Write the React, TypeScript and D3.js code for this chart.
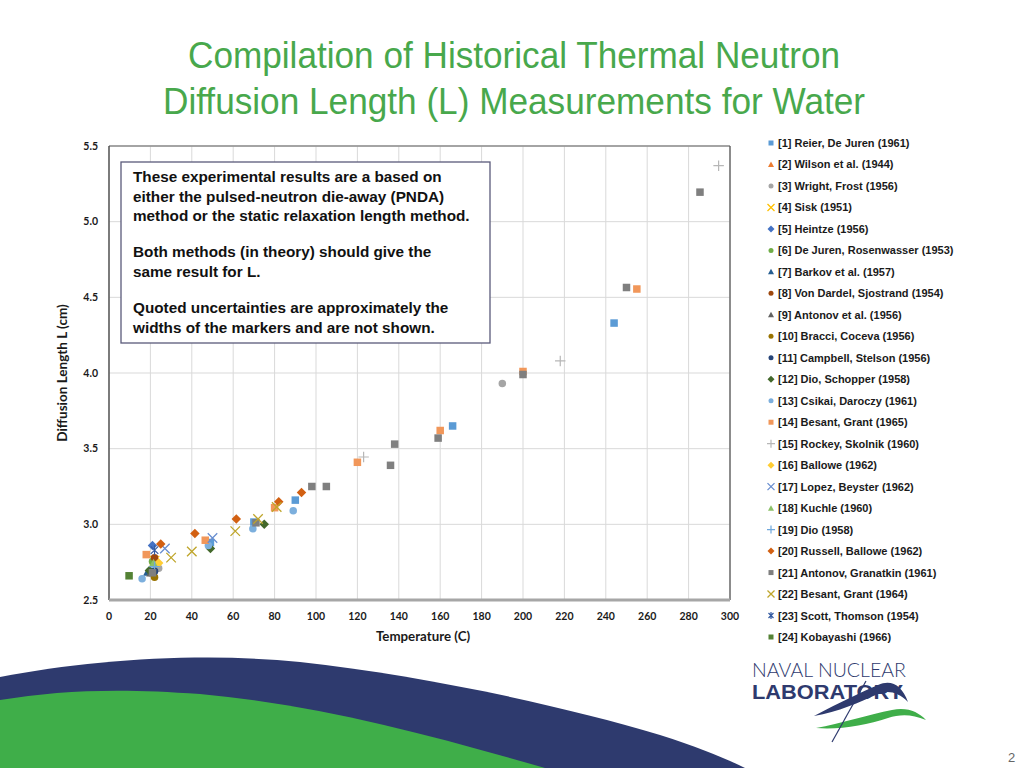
import React from "react";
import * as d3 from "d3";

// ---------- data ----------
const seriesNames = [
  "[1] Reier, De Juren (1961)",
  "[2] Wilson et al. (1944)",
  "[3] Wright, Frost (1956)",
  "[4] Sisk (1951)",
  "[5] Heintze (1956)",
  "[6] De Juren, Rosenwasser (1953)",
  "[7] Barkov et al. (1957)",
  "[8] Von Dardel, Sjostrand (1954)",
  "[9] Antonov et al. (1956)",
  "[10] Bracci, Coceva (1956)",
  "[11] Campbell, Stelson (1956)",
  "[12] Dio, Schopper (1958)",
  "[13] Csikai, Daroczy (1961)",
  "[14] Besant, Grant (1965)",
  "[15] Rockey, Skolnik (1960)",
  "[16] Ballowe (1962)",
  "[17] Lopez, Beyster (1962)",
  "[18] Kuchle (1960)",
  "[19] Dio (1958)",
  "[20] Russell, Ballowe (1962)",
  "[21] Antonov, Granatkin (1961)",
  "[22] Besant, Grant (1964)",
  "[23] Scott, Thomson (1954)",
  "[24] Kobayashi (1966)",
];

const seriesShapes = [
  "square", "triangle", "circle", "x", "diamond", "circle", "triangle", "circle",
  "triangle", "circle", "circle", "diamond", "circle", "square", "plus", "diamond",
  "x", "triangle", "plus", "diamond", "square", "x", "star", "square",
];

const seriesColors = [
  "#5B9BD5", "#ED7D31", "#A5A5A5", "#FFC000", "#4472C4", "#70AD47", "#255E91", "#9E480E",
  "#636363", "#997300", "#264478", "#43682B", "#7CAFDD", "#F1975A", "#B7B7B7", "#FFCD33",
  "#698ED0", "#8CC168", "#6FA8DC", "#D26012", "#7F7F7F", "#BFA52A", "#335AA1", "#548235",
];

// temperatures (C) per series
const seriesTemps: number[][] = [
  [244, 166, 90, 70, 49, 21],
  [23],
  [190, 24],
  [22],
  [21],
  [21],
  [18.5],
  [22],
  [20],
  [22],
  [22],
  [19.5, 49, 75],
  [16, 48, 69.5, 89],
  [18, 46.5, 80, 120, 160, 200, 255],
  [123, 218, 294.5],
  [24],
  [27, 50],
  [21.5],
  [22],
  [25, 41.5, 61.5, 82, 93],
  [21, 71, 98, 105, 136, 138, 159, 200, 250, 285.5],
  [30, 40, 61, 72, 81],
  [22],
  [9.7],
];

// diffusion lengths (cm) per series
const seriesValues: number[][] = [
  [4.33, 3.65, 3.16, 3.015, 2.88, 2.69],
  [2.77],
  [3.93, 2.71],
  [2.76],
  [2.86],
  [2.755],
  [2.685],
  [2.78],
  [2.68],
  [2.65],
  [2.69],
  [2.695, 2.84, 3.0],
  [2.64, 2.86, 2.97, 3.09],
  [2.8, 2.895, 3.11, 3.41, 3.62, 4.01, 4.555],
  [3.445, 4.08, 5.37],
  [2.745],
  [2.84, 2.91],
  [2.745],
  [2.72],
  [2.87, 2.94, 3.035, 3.15, 3.21],
  [2.68, 3.01, 3.25, 3.25, 3.39, 3.53, 3.57, 3.99, 4.565, 5.195],
  [2.78, 2.82, 2.955, 3.035, 3.115],
  [2.83],
  [2.66],
];

const xTicks = [0, 20, 40, 60, 80, 100, 120, 140, 160, 180, 200, 220, 240, 260, 280, 300];
const yTicks = [2.5, 3.0, 3.5, 4.0, 4.5, 5.0, 5.5];

const noteLines = [
  "These experimental results are a based on",
  "either the pulsed-neutron die-away (PNDA)",
  "method or the static relaxation length method.",
  "Both methods (in theory) should give the",
  "same result for L.",
  "Quoted uncertainties are approximately the",
  "widths of the markers and are not shown.",
];
const noteBaselines = [182, 201.5, 221, 257, 276.5, 313, 332.5];

// ---------- layout ----------
const W = 1024;
const H = 768;
const plot = { left: 109, right: 730, top: 146, bottom: 600 };
const chartFont = "Lato, 'Liberation Sans', sans-serif";
const arial = "'Liberation Sans', Arial, sans-serif";

function Marker({ shape, color, x, y, s }: { shape: string; color: string; x: number; y: number; s: number }) {
  const h = s / 2;
  switch (shape) {
    case "square":
      return <rect x={x - h} y={y - h} width={s} height={s} fill={color} />;
    case "circle":
      return <circle cx={x} cy={y} r={h} fill={color} />;
    case "triangle":
      return <path d={`M${x},${y - h - 0.5}L${x + h + 0.5},${y + h}L${x - h - 0.5},${y + h}Z`} fill={color} />;
    case "diamond":
      return <path d={`M${x},${y - h - 1}L${x + h + 1},${y}L${x},${y + h + 1}L${x - h - 1},${y}Z`} fill={color} />;
    case "x":
      return (
        <path d={`M${x - h - 1},${y - h - 1}L${x + h + 1},${y + h + 1}M${x - h - 1},${y + h + 1}L${x + h + 1},${y - h - 1}`} stroke={color} strokeWidth={1.3} fill="none" />
      );
    case "plus":
      return <path d={`M${x - h - 1.5},${y}L${x + h + 1.5},${y}M${x},${y - h - 1.5}L${x},${y + h + 1.5}`} stroke={color} strokeWidth={1.2} fill="none" />;
    case "star":
      return (
        <path d={`M${x - h},${y - h}L${x + h},${y + h}M${x - h},${y + h}L${x + h},${y - h}M${x},${y - h - 1}L${x},${y + h + 1}`} stroke={color} strokeWidth={1.2} fill="none" />
      );
    default:
      return null;
  }
}

export default function App() {
  const xScale = d3.scaleLinear().domain([0, 300]).range([plot.left, plot.right]);
  const yScale = d3.scaleLinear().domain([2.5, 5.5]).range([plot.bottom, plot.top]);

  const navyPath = "M0,677 C90,660 200,652 300,662 C420,675 560,705 660,735 C700,748 725,758 745,768 L0,768 Z";
  const greenPath = "M0,700 C60,690 120,688 200,694 C320,705 430,735 545,768 L0,768 Z";

  const legendTop = 143;
  const legendStep = (637 - 143) / 23;

  return (
    <svg width={W} height={H} style={{ position: "absolute", left: 0, top: 0, background: "#fff" }}>
      <rect x={0} y={0} width={W} height={H} fill="#fff" />
      {/* title */}
      <g fontFamily={arial} fill="#48A84C" fontSize={36} textAnchor="middle">
        <text x={514} y={68} textLength={652} lengthAdjust="spacingAndGlyphs">Compilation of Historical Thermal Neutron</text>
        <text x={514} y={114} textLength={702} lengthAdjust="spacingAndGlyphs">Diffusion Length (L) Measurements for Water</text>
      </g>

      {/* background waves */}
      <path d={navyPath} fill="#2E3A6E" />
      <path d={greenPath} fill="#3FAE49" />

      {/* gridlines */}
      <g stroke="#D9D9D9" strokeWidth={1}>
        {xTicks.map((t) => (
          <line key={"gx" + t} x1={xScale(t)} x2={xScale(t)} y1={plot.top} y2={plot.bottom} />
        ))}
        {yTicks.map((t) => (
          <line key={"gy" + t} x1={plot.left} x2={plot.right} y1={yScale(t)} y2={yScale(t)} />
        ))}
      </g>
      {/* plot border */}
      <line x1={plot.left} x2={plot.right} y1={plot.top} y2={plot.top} stroke="#8C8C8C" strokeWidth={1.5} />
      <line x1={plot.right} x2={plot.right} y1={plot.top} y2={plot.bottom} stroke="#595959" strokeWidth={1.3} />
      <line x1={plot.left} x2={plot.left} y1={plot.top} y2={plot.bottom} stroke="#404040" strokeWidth={1.3} />
      <line x1={plot.left} x2={plot.right} y1={plot.bottom} y2={plot.bottom} stroke="#A6A6A6" strokeWidth={3} />

      {/* tick labels */}
      <g fontFamily={chartFont} fontWeight="bold" fontSize={10.5} fill="#1a1a1a">
        {yTicks.map((t) => (
          <text key={"yl" + t} x={98} y={yScale(t) + 3.5} textAnchor="end">
            {d3.format(".1f")(t)}
          </text>
        ))}
        {xTicks.map((t) => (
          <text key={"xl" + t} x={xScale(t)} y={620} textAnchor="middle">
            {t}
          </text>
        ))}
      </g>
      <text x={423} y={641} textAnchor="middle" fontFamily={chartFont} fontWeight="bold" fontSize={13.3} fill="#1a1a1a">
        Temperature (C)
      </text>
      <text
        transform={`translate(67,373) rotate(-90)`}
        textAnchor="middle"
        fontFamily={chartFont}
        fontWeight="bold"
        fontSize={13.5}
        fill="#1a1a1a"
      >
        Diffusion Length L (cm)
      </text>

      {/* note box */}
      <rect x={121} y={162} width={369} height={181} fill="#fff" stroke="#5A5A7A" strokeWidth={1.3} />
      <g fontFamily={arial} fontWeight="bold" fontSize={15.3} fill="#111">
        {noteLines.map((l, i) => (
          <text key={"n" + i} x={133} y={noteBaselines[i]}>
            {l}
          </text>
        ))}
      </g>

      {/* markers */}
      <g>
        {seriesNames.map((name, si) =>
          seriesTemps[si].map((t, pi) => (
            <Marker
              key={name + pi}
              shape={seriesShapes[si]}
              color={seriesColors[si]}
              x={xScale(t)}
              y={yScale(seriesValues[si][pi])}
              s={7.5}
            />
          ))
        )}
      </g>

      {/* legend */}
      <g fontFamily={arial} fontWeight="bold" fontSize={11} fill="#1a1a1a">
        {seriesNames.map((name, i) => {
          const y = legendTop + i * legendStep;
          return (
            <g key={"lg" + i}>
              <Marker shape={seriesShapes[i]} color={seriesColors[i]} x={771} y={y} s={5} />
              <text x={778} y={y + 4}>
                {name}
              </text>
            </g>
          );
        })}
      </g>

      {/* logo */}
      <g fill="#2E3A6E">
        <text x={752} y={677} fontFamily={chartFont} fontSize={20} fontWeight={300} textLength={154} lengthAdjust="spacingAndGlyphs">
          NAVAL NUCLEAR
        </text>
        <text x={752} y={699} fontFamily={arial} fontSize={20} fontWeight="bold" textLength={151} lengthAdjust="spacingAndGlyphs">
          LABORATORY
        </text>
      </g>
      <path d="M814,716 C840,702 862,692 878,685 C892,679 902,686 908,702 C898,692 888,690 878,694 C860,702 838,712 814,716 Z" fill="#2E3A6E" />
      <path d="M816,728 C840,724 870,714 892,710 C908,707 918,712 926,720 C912,714 900,714 888,718 C866,725 840,730 816,728 Z" fill="#3FAE49" />
      <line x1={832} y1={742} x2={866} y2={681} stroke="#2E3A6E" strokeWidth={1.2} />

      {/* page number */}
      <text x={1008} y={762} fontFamily={arial} fontSize={13} fill="#666">
        2
      </text>
    </svg>
  );
}
